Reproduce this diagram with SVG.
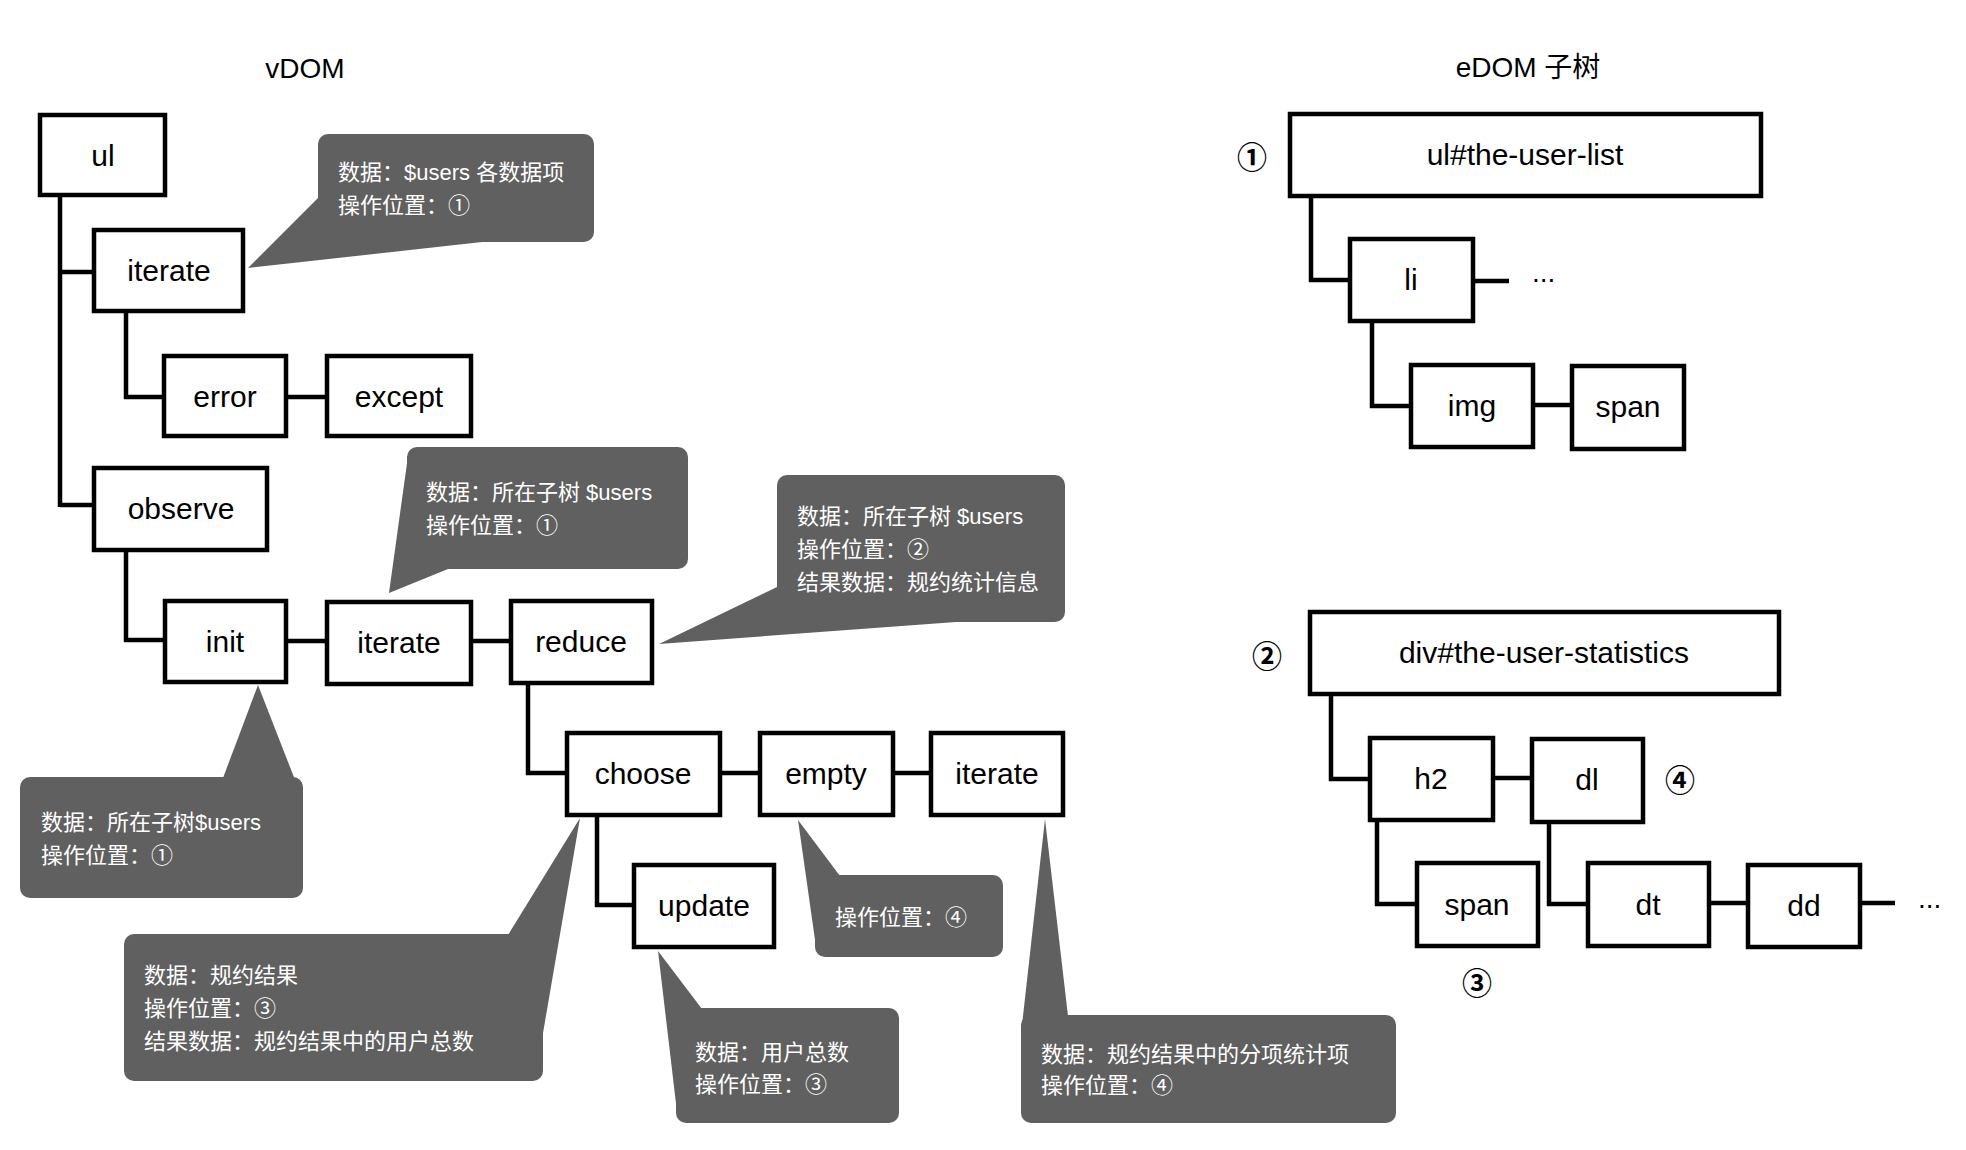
<svg xmlns="http://www.w3.org/2000/svg" width="1966" height="1150" viewBox="0 0 1966 1150">
<style>
.box{fill:#fff;stroke:#000;stroke-width:4.5}
.lbl{font-family:"Liberation Sans","Noto Sans CJK SC",sans-serif;font-size:30px;fill:#000;text-anchor:middle}
.ttl{font-family:"Liberation Sans","Noto Sans CJK SC",sans-serif;font-size:28px;fill:#000;text-anchor:middle}
.num{font-family:"Noto Sans CJK SC",sans-serif;font-size:30px;font-weight:bold;fill:#000;text-anchor:middle}
.dots{font-family:"Liberation Sans",sans-serif;font-size:28px;fill:#000}
.con{fill:none;stroke:#000;stroke-width:4.5}
.bub{fill:#606060}
.bt{font-family:"Liberation Sans","Noto Sans CJK SC",sans-serif;font-size:22px;fill:#fff}
</style>
<rect width="1966" height="1150" fill="#fff"/>
<text class="ttl" x="305" y="78">vDOM</text>
<text class="ttl" x="1528" y="77">eDOM 子树</text>

<g id="connectors">
<path class="con" d="M60 197V507M60 272H94M60 505H94"/>
<path class="con" d="M126 313V399M124 397H164"/>
<path class="con" d="M288 397H327"/>
<path class="con" d="M126 552V642M124 640H165"/>
<path class="con" d="M288 641H327"/>
<path class="con" d="M473 641H511"/>
<path class="con" d="M528 685V775M526 773H567"/>
<path class="con" d="M722 773H760"/>
<path class="con" d="M893 773H931"/>
<path class="con" d="M597 817V907M595 905H634"/>
<path class="con" d="M1311 198V282M1309 280H1350"/>
<path class="con" d="M1473 281H1509"/>
<path class="con" d="M1372 323V408M1370 406H1411"/>
<path class="con" d="M1533 405H1572"/>
<path class="con" d="M1331 696V781M1329 779H1370"/>
<path class="con" d="M1493 778H1532"/>
<path class="con" d="M1377 822V906M1375 904H1417"/>
<path class="con" d="M1549 824V906M1547 904H1588"/>
<path class="con" d="M1709 903H1748"/>
<path class="con" d="M1860 903H1895"/>
</g>

<g id="n-ul"><rect class="box" x="40" y="115" width="125" height="80"/><text class="lbl" x="103" y="166">ul</text></g>
<g id="n-iterate1"><rect class="box" x="94" y="230" width="149" height="81"/><text class="lbl" x="169" y="281">iterate</text></g>
<g id="n-error"><rect class="box" x="164" y="356" width="122" height="80"/><text class="lbl" x="225" y="407">error</text></g>
<g id="n-except"><rect class="box" x="327" y="356" width="144" height="80"/><text class="lbl" x="399" y="407">except</text></g>
<g id="n-observe"><rect class="box" x="94" y="468" width="173" height="82"/><text class="lbl" x="181" y="519">observe</text></g>
<g id="n-init"><rect class="box" x="165" y="601" width="121" height="81"/><text class="lbl" x="225" y="652">init</text></g>
<g id="n-iterate2"><rect class="box" x="327" y="602" width="144" height="82"/><text class="lbl" x="399" y="653">iterate</text></g>
<g id="n-reduce"><rect class="box" x="511" y="601" width="141" height="82"/><text class="lbl" x="581" y="652">reduce</text></g>
<g id="n-choose"><rect class="box" x="567" y="733" width="153" height="82"/><text class="lbl" x="643" y="784">choose</text></g>
<g id="n-empty"><rect class="box" x="760" y="733" width="133" height="82"/><text class="lbl" x="826" y="784">empty</text></g>
<g id="n-iterate3"><rect class="box" x="931" y="733" width="132" height="82"/><text class="lbl" x="997" y="784">iterate</text></g>
<g id="n-update"><rect class="box" x="634" y="865" width="140" height="82"/><text class="lbl" x="704" y="916">update</text></g>

<g id="n-ullist"><rect class="box" x="1290" y="114" width="471" height="82"/><text class="lbl" x="1525" y="165">ul#the-user-list</text></g>
<g id="n-li"><rect class="box" x="1350" y="239" width="123" height="82"/><text class="lbl" x="1411" y="290">li</text></g>
<g id="n-img"><rect class="box" x="1411" y="365" width="122" height="82"/><text class="lbl" x="1472" y="416">img</text></g>
<g id="n-span1"><rect class="box" x="1572" y="366" width="112" height="83"/><text class="lbl" x="1628" y="417">span</text></g>
<g id="n-div"><rect class="box" x="1310" y="612" width="469" height="82"/><text class="lbl" x="1544" y="663">div#the-user-statistics</text></g>
<g id="n-h2"><rect class="box" x="1370" y="738" width="123" height="82"/><text class="lbl" x="1431" y="789">h2</text></g>
<g id="n-dl"><rect class="box" x="1532" y="739" width="111" height="83"/><text class="lbl" x="1587" y="790">dl</text></g>
<g id="n-span2"><rect class="box" x="1417" y="863" width="121" height="83"/><text class="lbl" x="1477" y="915">span</text></g>
<g id="n-dt"><rect class="box" x="1588" y="863" width="121" height="83"/><text class="lbl" x="1648" y="915">dt</text></g>
<g id="n-dd"><rect class="box" x="1748" y="865" width="112" height="82"/><text class="lbl" x="1804" y="916">dd</text></g>

<text class="dots" x="1532" y="282">...</text>
<text class="dots" x="1918" y="908">...</text>
<text class="num" x="1252" y="168">①</text>
<text class="num" x="1267" y="667">②</text>
<text class="num" x="1477" y="994">③</text>
<text class="num" x="1680" y="791">④</text>

<g id="c1"><rect class="bub" x="318" y="134" width="276" height="108" rx="10"/><polygon class="bub" points="318,198 248,268 482,242"/>
<text class="bt" x="338" y="180">数据：$users 各数据项</text><text class="bt" x="338" y="213">操作位置：①</text></g>
<g id="c2"><rect class="bub" x="407" y="447" width="281" height="122" rx="10"/><polygon class="bub" points="408,456 389,593 448,569"/>
<text class="bt" x="426" y="500">数据：所在子树 $users</text><text class="bt" x="426" y="533">操作位置：①</text></g>
<g id="c3"><rect class="bub" x="777" y="475" width="288" height="147" rx="10"/><polygon class="bub" points="777,587 659,644 956,622"/>
<text class="bt" x="797" y="524">数据：所在子树 $users</text><text class="bt" x="797" y="557">操作位置：②</text><text class="bt" x="797" y="590">结果数据：规约统计信息</text></g>
<g id="c4"><rect class="bub" x="20" y="777" width="283" height="121" rx="10"/><polygon class="bub" points="223,778 258,685 297,785"/>
<text class="bt" x="41" y="830">数据：所在子树$users</text><text class="bt" x="41" y="863">操作位置：①</text></g>
<g id="c5"><rect class="bub" x="124" y="934" width="419" height="147" rx="10"/><polygon class="bub" points="508,935 580,818 543,1033"/>
<text class="bt" x="144" y="983">数据：规约结果</text><text class="bt" x="144" y="1016">操作位置：③</text><text class="bt" x="144" y="1049">结果数据：规约结果中的用户总数</text></g>
<g id="c6"><rect class="bub" x="676" y="1008" width="223" height="115" rx="10"/><polygon class="bub" points="658,951 702,1009 677,1112"/>
<text class="bt" x="695" y="1060">数据：用户总数</text><text class="bt" x="695" y="1092">操作位置：③</text></g>
<g id="c7"><rect class="bub" x="815" y="875" width="188" height="82" rx="10"/><polygon class="bub" points="798,820 840,876 816,947"/>
<text class="bt" x="835" y="925">操作位置：④</text></g>
<g id="c8"><rect class="bub" x="1021" y="1015" width="375" height="108" rx="10"/><polygon class="bub" points="1045,819 1068,1016 1022,1025"/>
<text class="bt" x="1041" y="1062">数据：规约结果中的分项统计项</text><text class="bt" x="1041" y="1093">操作位置：④</text></g>
</svg>
